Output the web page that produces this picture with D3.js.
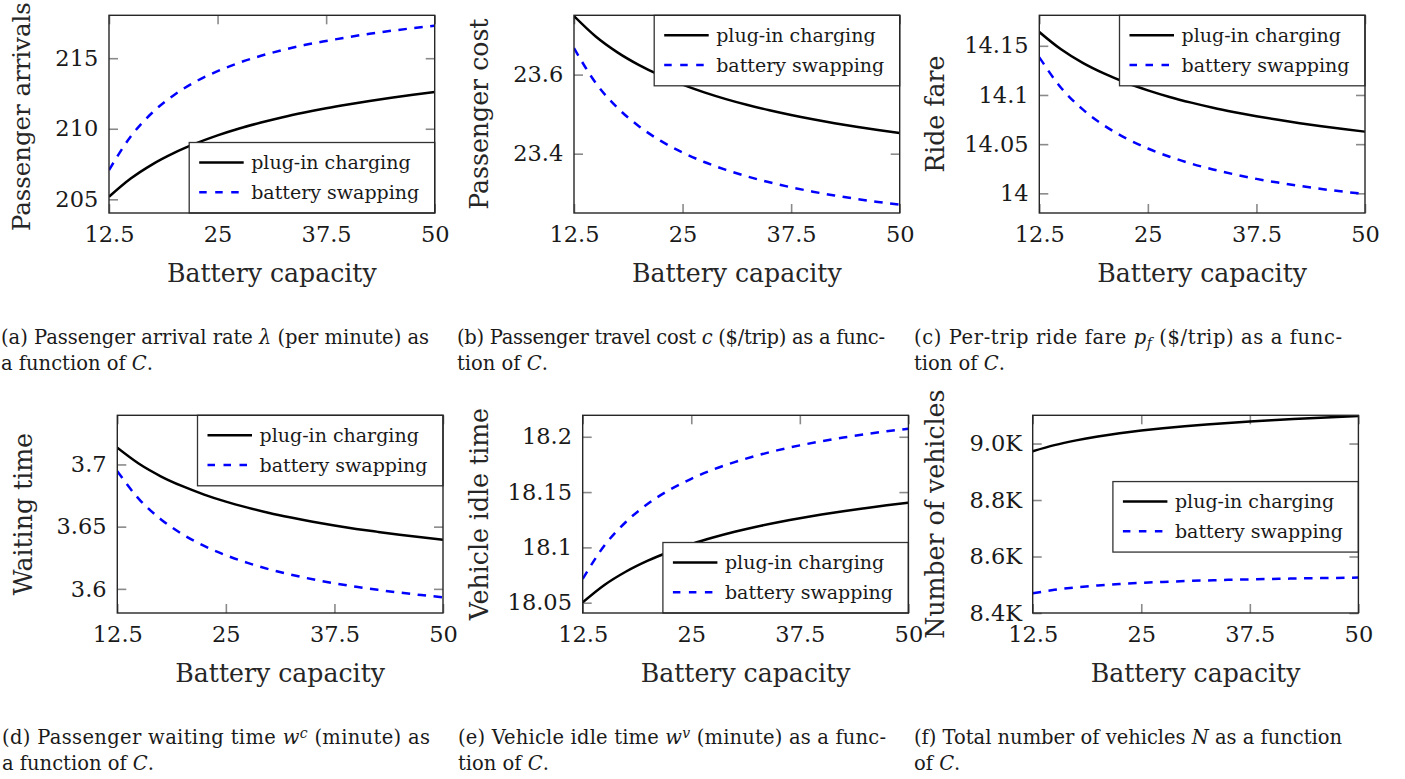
<!DOCTYPE html>
<html>
<head>
<meta charset="utf-8">
<script src="https://cdn.jsdelivr.net/npm/d3@7"></script>
<style>
  html, body { margin: 0; padding: 0; background: #fff; }
  svg { display: block; }
</style>
</head>
<body>
<div id="chart"></div>
<script>
// battery capacity (x values, shared by all panels)
const capacity = [12.5, 15, 17.5, 20, 22.5, 25, 27.5, 30, 32.5, 35, 37.5, 40, 42.5, 45, 47.5, 50];
const xTicks = [12.5, 25, 37.5, 50];
const seriesNames = ["plug-in charging", "battery swapping"];

// (a) passenger arrivals
const arrivalPlugin = [205.18, 206.47, 207.48, 208.29, 208.96, 209.53, 210.02, 210.44, 210.82, 211.15, 211.45, 211.72, 211.97, 212.20, 212.41, 212.60];
const arrivalSwap = [207.07, 209.45, 211.15, 212.40, 213.35, 214.08, 214.68, 215.17, 215.58, 215.93, 216.22, 216.49, 216.73, 216.94, 217.13, 217.30];
const arrivalTicks = [205, 210, 215];
const arrivalRange = [204.03, 218.04];

// (b) passenger cost
const costPlugin = [23.7480, 23.6964, 23.6563, 23.6240, 23.5972, 23.5746, 23.5551, 23.5381, 23.5231, 23.5098, 23.4978, 23.4869, 23.4770, 23.4680, 23.4597, 23.4520];
const costSwap = [23.6670, 23.5790, 23.5161, 23.4690, 23.4323, 23.4030, 23.3790, 23.3590, 23.3421, 23.3276, 23.3150, 23.3040, 23.2943, 23.2857, 23.2779, 23.2710];
const costTicks = [23.4, 23.6];
const costRange = [23.25, 23.75];

// (c) ride fare
const farePlugin = [14.1640, 14.1464, 14.1326, 14.1216, 14.1124, 14.1047, 14.0980, 14.0922, 14.0870, 14.0825, 14.0784, 14.0747, 14.0713, 14.0682, 14.0653, 14.0627];
const fareSwap = [14.1383, 14.1074, 14.0853, 14.0688, 14.0559, 14.0456, 14.0372, 14.0302, 14.0243, 14.0192, 14.0147, 14.0109, 14.0075, 14.0044, 14.0017, 13.9993];
const fareTicks = [14, 14.05, 14.1, 14.15];
const fareRange = [13.98, 14.181];

// (d) waiting time
const waitPlugin = [3.7134, 3.7005, 3.6905, 3.6825, 3.6758, 3.6701, 3.6653, 3.6610, 3.6573, 3.6539, 3.6509, 3.6482, 3.6458, 3.6435, 3.6414, 3.6395];
const waitSwap = [3.6946, 3.6721, 3.6560, 3.6439, 3.6345, 3.6270, 3.6209, 3.6157, 3.6114, 3.6077, 3.6045, 3.6017, 3.5992, 3.5970, 3.5950, 3.5932];
const waitTicks = [3.6, 3.65, 3.7];
const waitRange = [3.5806, 3.7395];

// (e) vehicle idle time
const idlePlugin = [18.0503, 18.0660, 18.0782, 18.0880, 18.0961, 18.1030, 18.1089, 18.1141, 18.1187, 18.1227, 18.1264, 18.1297, 18.1327, 18.1354, 18.1380, 18.1403];
const idleSwap = [18.0715, 18.1017, 18.1232, 18.1394, 18.1520, 18.1620, 18.1703, 18.1771, 18.1829, 18.1879, 18.1922, 18.1960, 18.1993, 18.2023, 18.2049, 18.2073];
const idleTicks = [18.05, 18.1, 18.15, 18.2];
const idleRange = [18.0407, 18.2194];

// (f) number of vehicles
const fleetPlugin = [8972.7, 8994.4, 9011.3, 9025.0, 9036.3, 9045.8, 9054.0, 9061.2, 9067.5, 9073.1, 9078.2, 9082.8, 9086.9, 9090.7, 9094.3, 9097.5];
const fleetSwap = [8469.6, 8482.0, 8490.8, 8497.5, 8502.6, 8506.7, 8510.1, 8512.9, 8515.3, 8517.3, 8519.1, 8520.7, 8522.0, 8523.2, 8524.3, 8525.3];
const fleetTicks = [8400, 8600, 8800, 9000];
const fleetRange = [8400, 9100];

const yLabels = ["Passenger arrivals", "Passenger cost", "Ride fare", "Waiting time", "Vehicle idle time", "Number of vehicles"];

// *x* = italic, _x = subscript, ^x = superscript
const captions = [
  ["(a) Passenger arrival rate *λ* (per minute) as", "a function of *C*."],
  ["(b) Passenger travel cost *c* ($/trip) as a func-", "tion of *C*."],
  ["(c) Per-trip ride fare *p*_f ($/trip) as a func-", "tion of *C*."],
  ["(d) Passenger waiting time *w*^c (minute) as", "a function of *C*."],
  ["(e) Vehicle idle time *w*^v (minute) as a func-", "tion of *C*."],
  ["(f) Total number of vehicles *N* as a function", "of *C*."]
];

const width = 1405;
const height = 779;
const plotW = 325.7;
const plotH = 197.7;
const font = "'DejaVu Serif', 'Liberation Serif', serif";

// layout of the six sub-figures
const panels = [
  { plugin: arrivalPlugin, swap: arrivalSwap, ticks: arrivalTicks, range: arrivalRange, fmt: d => d3.format("d")(d), left: 109, top: 15.3, legend: 0, labX: 30, labShift: 2.5, labSize: 24.4, capX: 1 },
  { plugin: costPlugin, swap: costSwap, ticks: costTicks, range: costRange, fmt: d => d.toString(), left: 574, top: 15.3, legend: 1, labX: 488, capX: 457 },
  { plugin: farePlugin, swap: fareSwap, ticks: fareTicks, range: fareRange, fmt: d => d.toString(), left: 1039.3, top: 15.3, legend: 1, labX: 944, capX: 914 },
  { plugin: waitPlugin, swap: waitSwap, ticks: waitTicks, range: waitRange, fmt: d => d.toString(), left: 117.3, top: 415.3, legend: 1, labX: 32, capX: 2 },
  { plugin: idlePlugin, swap: idleSwap, ticks: idleTicks, range: idleRange, fmt: d => d.toString(), left: 582.7, top: 415.3, legend: 0, labX: 488, capX: 458 },
  { plugin: fleetPlugin, swap: fleetSwap, ticks: fleetTicks, range: fleetRange, fmt: d => (d / 1000).toFixed(1) + "K", left: 1032.7, top: 415.3, legend: 0.479, labX: 944, capX: 914 }
];

const svg = d3.select("#chart")
  .append("svg")
  .attr("width", width)
  .attr("height", height)
  .attr("viewBox", [0, 0, width, height]);

const defs = svg.append("defs");

panels.forEach((p, i) => {
  const x = d3.scaleLinear().domain([12.5, 50]).range([p.left, p.left + plotW]);
  const y = d3.scaleLinear().domain(p.range).range([p.top + plotH, p.top]);
  const g = svg.append("g");

  defs.append("clipPath").attr("id", "clip" + i)
    .append("rect")
    .attr("x", p.left).attr("y", p.top).attr("width", plotW).attr("height", plotH);

  // axes: labels outside, short grey ticks pointing inward on all four sides
  const xb = g.append("g")
    .attr("transform", `translate(0,${p.top + plotH})`)
    .call(d3.axisBottom(x).tickValues(xTicks).tickFormat(d => d).tickSizeInner(-9).tickSizeOuter(0).tickPadding(13));
  const xt = g.append("g")
    .attr("transform", `translate(0,${p.top})`)
    .call(d3.axisTop(x).tickValues(xTicks).tickFormat("").tickSizeInner(-9).tickSizeOuter(0));
  const yl = g.append("g")
    .attr("transform", `translate(${p.left},0)`)
    .call(d3.axisLeft(y).tickValues(p.ticks).tickFormat(p.fmt).tickSizeInner(-9).tickSizeOuter(0).tickPadding(10.7));
  const yr = g.append("g")
    .attr("transform", `translate(${p.left + plotW},0)`)
    .call(d3.axisRight(y).tickValues(p.ticks).tickFormat("").tickSizeInner(-9).tickSizeOuter(0));

  [xb, xt, yl, yr].forEach(a => {
    a.select(".domain").remove();
    a.attr("font-family", font).attr("font-size", 22.5);
    a.selectAll(".tick line").attr("stroke", "#8a8a8a").attr("stroke-width", 1.6);
    a.selectAll(".tick text").attr("fill", "#1a1a1a");
  });

  // curves
  const line = d3.line()
    .x((d, k) => x(capacity[k]))
    .y(d => y(d))
    .curve(d3.curveMonotoneX);

  const curves = g.append("g").attr("clip-path", `url(#clip${i})`);
  curves.append("path")
    .attr("d", line(p.plugin))
    .attr("fill", "none")
    .attr("stroke", "#000")
    .attr("stroke-width", 2.5);
  curves.append("path")
    .attr("d", line(p.swap))
    .attr("fill", "none")
    .attr("stroke", "#0000ff")
    .attr("stroke-width", 2.5)
    .attr("stroke-dasharray", "8.5,7.5");

  // legend
  const lw = 245.5, lh = 70.5;
  const lx = p.left + plotW - lw;
  const ly = p.top + (plotH - lh) * (1 - p.legend);
  const leg = g.append("g").attr("transform", `translate(${lx},${ly})`);
  leg.append("rect")
    .attr("width", lw).attr("height", lh)
    .attr("fill", "#fff").attr("stroke", "#333").attr("stroke-width", 1.3);
  seriesNames.forEach((name, k) => {
    const cy = k === 0 ? 20 : 49.7;
    leg.append("line")
      .attr("x1", 10).attr("x2", 54.5).attr("y1", cy).attr("y2", cy)
      .attr("stroke", k === 0 ? "#000" : "#0000ff")
      .attr("stroke-width", 2.5)
      .attr("stroke-dasharray", k === 0 ? null : "7.5,8.5");
    leg.append("text")
      .attr("x", 62).attr("y", cy + 6.8)
      .attr("font-family", font).attr("font-size", 19)
      .attr("fill", "#1a1a1a")
      .text(name);
  });

  // frame
  g.append("rect")
    .attr("x", p.left).attr("y", p.top).attr("width", plotW).attr("height", plotH)
    .attr("fill", "none").attr("stroke", "#262626").attr("stroke-width", 1.4);

  // x label
  g.append("text")
    .attr("x", p.left + plotW / 2).attr("y", p.top + plotH + 68.7)
    .attr("text-anchor", "middle")
    .attr("font-family", font).attr("font-size", 25.2)
    .attr("fill", "#262626")
    .text("Battery capacity");

  // y label
  g.append("text")
    .attr("transform", `translate(${p.labX},${p.top + plotH / 2 + (p.labShift || 0)}) rotate(-90)`)
    .attr("text-anchor", "middle")
    .attr("font-family", font).attr("font-size", p.labSize || 25.2)
    .attr("fill", "#262626")
    .text(yLabels[i]);

  // caption (first line justified like the LaTeX subcaption)
  captions[i].forEach((ln, k) => {
    const t = g.append("text")
      .attr("x", p.capX)
      .attr("y", p.top + 329 + k * 25.8)
      .attr("font-family", font).attr("font-size", 19.5)
      .attr("fill", "#1a1a1a");
    ln.split(/(\*[^*]+\*|_\w|\^\w)/).filter(s => s.length).forEach(s => {
      if (s[0] === "*") {
        t.append("tspan").attr("font-style", "italic").text(s.slice(1, -1));
      } else if (s[0] === "_" || s[0] === "^") {
        t.append("tspan")
          .attr("font-style", "italic")
          .attr("font-size", 14)
          .attr("baseline-shift", s[0] === "_" ? "-25%" : "45%")
          .text(s.slice(1));
      } else {
        t.append("tspan").text(s);
      }
    });
    if (k === 0) t.attr("textLength", 428).attr("lengthAdjust", "spacing");
  });
});
</script>
</body>
</html>
